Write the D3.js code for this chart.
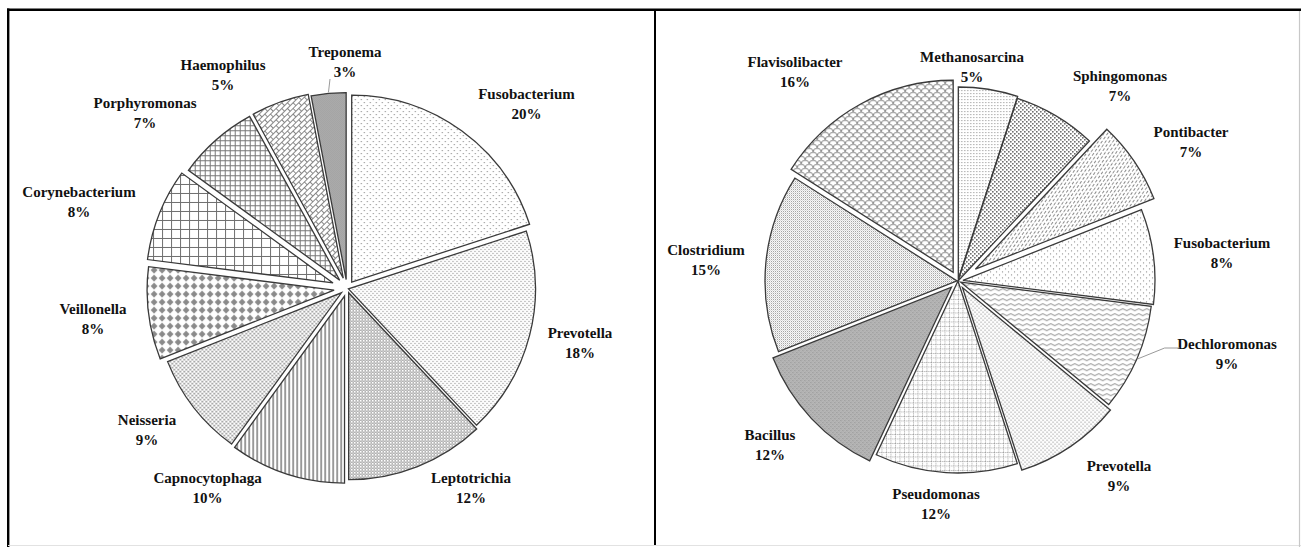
<!DOCTYPE html>
<html><head><meta charset="utf-8">
<script src="https://cdn.jsdelivr.net/npm/d3@7"></script>
<style>html,body{margin:0;padding:0;background:#fff;overflow:hidden} svg{display:block}</style>
</head><body>
<svg id="chart" width="1301" height="547"></svg>
<script>
// ---------- data ----------
const leftCategories = ["Fusobacterium","Prevotella","Leptotrichia","Capnocytophaga","Neisseria","Veillonella","Corynebacterium","Porphyromonas","Haemophilus","Treponema"];
const leftValues = [20,18,12,10,9,8,8,7,5,3];
const rightCategories = ["Methanosarcina","Sphingomonas","Pontibacter","Fusobacterium","Dechloromonas","Prevotella","Pseudomonas","Bacillus","Clostridium","Flavisolibacter"];
const rightValues = [5,7,7,8,9,9,12,12,15,16];

// ---------- layout / style ----------
const leftLayout = {
  cx: 347, cy: 288.5, r: 187,
  explode: [8, 1.5, 4.5, 8, 7, 13, 15, 11, 11, 9],
  labelOffset: [[179.5,-189.5],[233,49.5],[124,194.5],[-139.4,194.5],[-200,136.5],[-254,25.5],[-268,-91.5],[-202,-180.5],[-124,-218.5],[-2,-231.5]],
  patterns: ["dotsSparse","dotsDense","fineMesh","vlines","confetti","diamond","gridLarge","gridSmall","brick","darkCheck"],
  leaders: {9: "below"}
};
const rightLayout = {
  cx: 958, cy: 281, r: 192,
  explode: [2, 0, 21, 5, 3, 8, 0, 9, 1, 10],
  labelOffset: [[14,-219],[162,-200],[233,-144],[264,-33],[269,68],[161,190],[-22,218],[-188,159],[-252,-26],[-163,-214]],
  patterns: ["dotsFine","dotsDark","dashDiag","dotsSparse","wave","dotsDense","dottedGrid","darkCheck2","fine30","scales"],
  leaders: {4: "left"}
};

const svg = d3.select("#chart");
const defs = svg.append("defs");

function pat(id, w, h, draw, transform) {
  const p = defs.append("pattern").attr("id", id)
    .attr("patternUnits", "userSpaceOnUse").attr("width", w).attr("height", h);
  if (transform) p.attr("patternTransform", transform);
  p.append("rect").attr("width", w).attr("height", h).attr("fill", "#fff");
  draw(p);
}
function px(p, x, y, c, s) { p.append("rect").attr("x", x).attr("y", y).attr("width", s || 1).attr("height", s || 1).attr("fill", c); }

pat("dotsSparse", 6, 6, p => { px(p,0,0,"#8c8c8c",1.1); px(p,3,3,"#8c8c8c",1.1); });
pat("dotsDense", 4, 4, p => { px(p,0,0,"#8a8a8a",1.1); px(p,2,2,"#8a8a8a",1.1); });
pat("fineMesh", 3, 3, p => { px(p,1,0,"#8e8e8e"); px(p,0,1,"#8e8e8e"); px(p,2,1,"#8e8e8e"); px(p,1,2,"#8e8e8e"); });
pat("vlines", 4, 4, p => { p.append("rect").attr("x",0).attr("y",0).attr("width",1.2).attr("height",4).attr("fill","#5a5a5a"); });
pat("confetti", 4, 4, p => { px(p,0,0,"#8a8a8a",1.6); px(p,2,2,"#8a8a8a",1.6); });
pat("diamond", 8, 8, p => {
  p.append("path").attr("d","M4,0.6 L7.4,4 L4,7.4 L0.6,4 Z").attr("fill","#8a8a8a");
});
pat("gridLarge", 9, 9, p => {
  p.append("path").attr("d","M0.5,0 V9 M0,0.5 H9").attr("stroke","#6e6e6e").attr("stroke-width",1).attr("fill","none");
});
pat("gridSmall", 5, 5, p => {
  p.append("path").attr("d","M0.5,0 V5 M0,0.5 H5").attr("stroke","#777").attr("stroke-width",1).attr("fill","none");
});
pat("brick", 8, 8, p => {
  p.append("path").attr("d","M0,0.5 H8 M0,4.5 H8 M0.5,0.5 V4.5 M4.5,4.5 V8.5").attr("stroke","#7a7a7a").attr("stroke-width",0.9).attr("fill","none");
}, "rotate(-45)");
pat("darkCheck", 2, 2, p => { p.select("rect").attr("fill","#cdcdcd"); px(p,0,0,"#828282"); px(p,1,1,"#828282"); });

pat("dotsFine", 3, 3, p => { px(p,0,0,"#9a9a9a",1.1); });
pat("dotsDark", 4, 4, p => { px(p,0,0,"#707070",1.6); px(p,2,2,"#707070",1.6); });
pat("dashDiag", 5, 6, p => {
  p.append("path").attr("d","M0,0.5 H5").attr("stroke","#8a8a8a").attr("stroke-width",1).attr("stroke-dasharray","3,2");
  p.append("path").attr("d","M0,3.5 H5").attr("stroke","#8a8a8a").attr("stroke-width",1).attr("stroke-dasharray","3,2").attr("stroke-dashoffset",2.5);
}, "rotate(-55)");
pat("wave", 8, 5, p => {
  p.append("path").attr("d","M0,2.5 Q2,0.5 4,2.5 T8,2.5").attr("stroke","#7e7e7e").attr("stroke-width",0.9).attr("fill","none");
});
pat("dottedGrid", 4.5, 4.5, p => {
  p.append("path").attr("d","M0.5,0 V4.5 M0,0.5 H4.5").attr("stroke","#9a9a9a").attr("stroke-width",0.9).attr("stroke-dasharray","1,1").attr("fill","none");
});
pat("darkCheck2", 4, 4, p => {
  p.select("rect").attr("fill","#dadada");
  [[0,0],[2,0],[1,1],[3,1],[0,2],[2,2],[1,3],[3,3]].forEach(([x,y]) => px(p,x,y,"#8e8e8e"));
  px(p,1,1,"#6e6e6e"); px(p,3,3,"#6e6e6e");
});
pat("fine30", 2, 2, p => { px(p,0,0,"#9c9c9c"); px(p,1,1,"#d6d6d6"); });
pat("scales", 8, 8, p => {
  p.append("path").attr("d","M0,4 A4,4 0 0 1 8,4 M-4,8 A4,4 0 0 1 4,8 M4,8 A4,4 0 0 1 12,8 M-4,0 A4,4 0 0 1 4,0 M4,0 A4,4 0 0 1 12,0")
    .attr("stroke","#8a8a8a").attr("stroke-width",1).attr("fill","none");
});

// ---------- frame ----------
const frame = svg.append("g");
frame.append("line").attr("x1",7).attr("x2",1301).attr("y1",9.8).attr("y2",9.8).attr("stroke","#000").attr("stroke-width",2.6);
frame.append("line").attr("x1",8.2).attr("x2",8.2).attr("y1",8.5).attr("y2",547).attr("stroke","#000").attr("stroke-width",2.4);
frame.append("line").attr("x1",655).attr("x2",655).attr("y1",9).attr("y2",545).attr("stroke","#000").attr("stroke-width",2);
frame.append("line").attr("x1",8).attr("x2",1301).attr("y1",545.5).attr("y2",545.5).attr("stroke","#e2e2e2").attr("stroke-width",1);
frame.append("line").attr("x1",1299.5).attr("x2",1299.5).attr("y1",11).attr("y2",547).attr("stroke","#c8c8c8").attr("stroke-width",1.2);

// ---------- pies ----------
const fontFamily = "'Liberation Serif','Times New Roman',serif";

function drawPie(categories, values, L) {
  const pie = d3.pie().sort(null).value(d => d).startAngle(0).endAngle(2 * Math.PI);
  const arcs = pie(values);
  const arc = d3.arc().innerRadius(0).outerRadius(L.r);
  const g = svg.append("g").attr("transform", `translate(${L.cx},${L.cy})`);
  const mid = d => (d.startAngle + d.endAngle) / 2;

  g.selectAll("path.slice").data(arcs).join("path")
    .attr("class", "slice")
    .attr("d", arc)
    .attr("transform", (d, i) => {
      const a = mid(d), e = L.explode[i];
      return `translate(${e * Math.sin(a)},${-e * Math.cos(a)})`;
    })
    .attr("fill", (d, i) => `url(#${L.patterns[i]})`)
    .attr("stroke", "#3a3a3a")
    .attr("stroke-width", 1.3)
    .attr("stroke-linejoin", "miter");

  const lab = g.selectAll("g.lab").data(arcs).join("g").attr("class", "lab")
    .attr("transform", (d, i) => `translate(${L.labelOffset[i][0]},${L.labelOffset[i][1]})`);
  lab.append("text").attr("text-anchor", "middle")
    .attr("font-family", fontFamily).attr("font-weight", "bold").attr("font-size", 15)
    .attr("fill", "#111")
    .text((d, i) => categories[i]);
  lab.append("text").attr("text-anchor", "middle").attr("y", 19.5)
    .attr("font-family", fontFamily).attr("font-weight", "bold").attr("font-size", 15)
    .attr("fill", "#111")
    .text(d => d.value + "%");

  // leader lines
  Object.keys(L.leaders).forEach(k => {
    const i = +k, d = arcs[i], a = mid(d);
    const rr = L.r + L.explode[i] + 1;
    const ex = rr * Math.sin(a), ey = -rr * Math.cos(a);
    const [lx, ly] = L.labelOffset[i];
    let pts;
    if (L.leaders[k] === "below") {
      pts = [[lx - 15, ly + 22], [ex, ey]];
    } else {
      const w = categories[i].length * 7.6 / 2;
      pts = [[lx - w + 2, ly - 1], [lx - w - 13, ly - 1], [ex, ey]];
    }
    g.append("path").attr("d", d3.line()(pts))
      .attr("stroke", "#9a9a9a").attr("stroke-width", 1).attr("fill", "none");
  });
}

drawPie(leftCategories, leftValues, leftLayout);
drawPie(rightCategories, rightValues, rightLayout);
</script>
</body></html>
